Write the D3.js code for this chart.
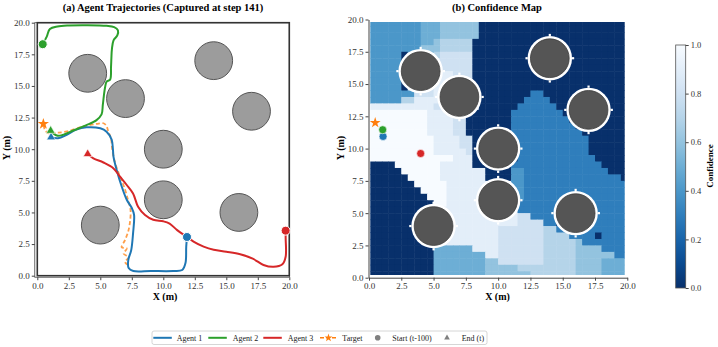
<!DOCTYPE html>
<html>
<head>
<meta charset="utf-8">
<script src="https://d3js.org/d3.v7.min.js"></script>
<style>
  body { margin: 0; background: #fff; }
  text { font-family: "Liberation Serif", "DejaVu Serif", serif; }
</style>
</head>
<body>
<script>
'use strict';

// obstacle centres (m)
const obstacles = [[4, 16], [7, 14], [14, 17], [17, 13], [10, 10], [10, 6], [5, 4], [16, 5]];
const obstacleRadius = 1.5;

const agentNames = ['Agent 1', 'Agent 2', 'Agent 3'];
const agentColors = ['#1f77b4', '#2ca02c', '#d62728'];
const targetColor = '#ff7f0e';

// trajectories, first point = start (t-100), last = end (t)
const agent1Path = [[11.88, 3.06], [11.82, 2.3], [11.76, 1.0], [11.5, 0.45], [10.8, 0.37], [9.0, 0.37], [7.62, 0.37],
  [7.25, 0.6], [7.22, 1.24], [7.45, 2.0], [7.6, 3.35], [7.68, 4.8], [7.5, 5.35], [7.1, 6.0], [6.7, 7.05], [6.3, 8.35],
  [6.05, 9.4], [6.0, 10.0], [5.9, 10.75], [5.5, 11.38], [5.0, 11.65], [3.9, 11.73], [3.1, 11.55], [2.3, 11.12],
  [1.65, 10.87], [1.09, 10.94]];
const agent2Path = [[0.43, 18.3], [0.75, 18.9], [1.0, 19.5], [1.6, 19.7], [2.5, 19.78], [4.0, 19.8], [5.5, 19.75],
  [6.1, 19.65], [6.4, 19.4], [6.35, 19.0], [6.05, 18.6], [5.92, 17.9], [5.88, 17.2], [5.85, 16.5], [5.78, 15.5],
  [5.5, 15.35], [5.38, 14.9], [5.28, 14.2], [5.2, 13.5], [5.1, 12.75], [4.7, 12.3], [3.9, 11.9], [2.9, 11.5],
  [2.0, 11.12], [1.55, 11.08], [1.06, 11.46]];
const agent3Path = [[19.71, 3.56], [19.71, 3.0], [19.71, 1.5], [19.45, 0.9], [18.75, 0.7], [17.95, 0.85], [17.1, 1.35],
  [16.1, 1.7], [15.0, 1.9], [14.0, 2.05], [13.2, 2.3], [12.4, 2.7], [11.9, 3.05], [11.1, 3.6], [10.5, 4.12],
  [10.0, 4.3], [9.2, 4.42], [8.55, 4.8], [8.0, 5.45], [7.6, 6.5], [7.1, 7.17], [6.55, 7.85], [6.03, 8.5],
  [5.25, 8.95], [4.45, 9.28], [4.0, 9.62]];
const targetPath = [[7.2, 0.85], [6.95, 1.1], [7.25, 1.45], [6.85, 1.75], [7.1, 2.15], [6.7, 2.25], [6.95, 2.8],
  [7.2, 3.45], [7.35, 4.2], [7.4, 5.2], [7.2, 6.0], [6.9, 7.0], [6.5, 8.0], [6.15, 9.0], [5.95, 10.0], [5.85, 10.85],
  [5.65, 11.35], [5.48, 11.85], [5.25, 12.05], [4.7, 12.0], [3.65, 11.8], [2.35, 11.4], [1.5, 11.3], [0.9, 11.25],
  [0.6, 11.55], [0.48, 12.0]];
const agentPaths = [agent1Path, agent2Path, agent3Path];

const axisTicks = [0, 2.5, 5, 7.5, 10, 12.5, 15, 17.5, 20];
const colorbarTicks = [0, 0.2, 0.4, 0.6, 0.8, 1.0];

// confidence grid, 40 x 40 cells of 0.5 m, top row = y 19.5..20 (spaces only group the columns)
// level chars: '0'..'9' -> 0.0..0.9, 'w' -> 1.0
const confLevels = '0123456789w';
const confRows = [
  '4444444455 5666666000 0000000000 0000000000',
  '4444444455 5666666000 0000000000 0000000000',
  '4444444455 5666666000 0000000000 0000000000',
  '4444444455 6777770000 0000000000 0000000000',
  '4444444466 6777770000 0000000000 0000000000',
  '4444405555 7888880000 0000000000 0000000000',
  '4444406666 8888880000 0000000000 0000000000',
  '4444406666 8888880000 0000000000 0000000000',
  '4444408888 8998880000 0000000000 0000000000',
  '4444408888 9998880000 0000000000 0000000000',
  '4444408888 9988880000 0000000000 0000000000',
  '4444444888 9888880000 0000033000 0000000000',
  '4444477999 9888888000 0000333300 0000000000',
  '9999999999 8888888000 0003333330 0000000000',
  'wwwwwwwww9 9998800000 0033333333 0000000000',
  'wwwwwwwww9 9998800000 0033333333 3000000000',
  'wwwwwwwww9 9998800000 0033333333 3300000000',
  'wwwwwwwww9 9998800000 0033333333 3330000000',
  'wwwwwwwwww 9999880000 0033333333 3333000000',
  'wwwwwwwwww 9999880000 0003333333 3333000000',
  'wwwwwwwwww 9999980000 0003333333 3333000000',
  'wwwwwwwwww www9990000 0003333333 3333300000',
  '0000wwwwww w999990000 0033333333 3333330000',
  '00000wwwww w999999900 0044333333 3333333000',
  '000000wwww w999999900 0044333333 3333333330',
  '0000000www ww99999999 9944333333 3333333333',
  '00000000ww ww99999999 9944333333 3333333333',
  '000000000w ww99999999 9994333333 3333333333',
  '0000000000 ww99999999 9993333333 3333333333',
  '0000000000 9999999999 9993333333 3333333333',
  '0000000000 9999999999 9998833333 3333333333',
  '0000000000 9999999999 9998888330 3333333333',
  '0000000000 9999999999 8888888773 3333333333',
  '0000000000 9999999999 8888888777 7333303333',
  '0000000000 9999999999 8888888777 7763333333',
  '0000000000 5555559999 8888888777 7766663333',
  '0000000000 5555555599 8888888777 7766666633',
  '0000000000 5555555566 8888888777 7766665555',
  '0000000000 5555555566 6667777777 7766665555',
  '0000000000 5555555566 6666677777 7766665555'
];

const svg = d3.select('body').append('svg')
  .attr('width', 718)
  .attr('height', 347);
const defs = svg.append('defs');

const fmt = d3.format('.1f');

// ---------- (a) trajectories ----------
const xL = d3.scaleLinear().domain([0, 20]).range([37.3, 289.3]);
const yL = d3.scaleLinear().domain([0, 20]).range([275.7, 22.7]);

const left = svg.append('g');

// axes frame
left.append('rect')
  .attr('x', xL(-0.2)).attr('y', yL(20))
  .attr('width', xL(20) - xL(-0.2)).attr('height', yL(-0.12) - yL(20))
  .attr('fill', 'none').attr('stroke', '#444').attr('stroke-width', 0.8);

// environment boundary
left.append('rect')
  .attr('x', xL(0)).attr('y', yL(20))
  .attr('width', xL(20) - xL(0)).attr('height', yL(0) - yL(20))
  .attr('fill', 'none').attr('stroke', '#333').attr('stroke-width', 1.6);

function styleAxis(g) {
  g.select('.domain').remove();
  g.selectAll('.tick line').attr('stroke', '#444');
  g.selectAll('.tick text')
    .attr('fill', '#333')
    .style('font-size', '9px')
    .style('font-family', '"Liberation Serif", "DejaVu Serif", serif');
}

left.append('g')
  .attr('transform', `translate(${xL(-0.2)},0)`)
  .call(d3.axisLeft(yL).tickValues(axisTicks).tickFormat(fmt).tickSize(3).tickPadding(2))
  .call(styleAxis);

left.append('g')
  .attr('transform', `translate(0,${yL(-0.12)})`)
  .call(d3.axisBottom(xL).tickValues(axisTicks).tickFormat(fmt).tickSize(3).tickPadding(2))
  .call(styleAxis);

const rL = xL(obstacleRadius) - xL(0);
left.selectAll('.obs')
  .data(obstacles)
  .join('circle')
  .attr('cx', d => xL(d[0]))
  .attr('cy', d => yL(d[1]))
  .attr('r', rL)
  .attr('fill', '#9c9c9c')
  .attr('stroke', '#555')
  .attr('stroke-width', 1);

const lineL = d3.line()
  .x(d => xL(d[0]))
  .y(d => yL(d[1]))
  .curve(d3.curveCatmullRom.alpha(0.5));

left.append('path')
  .attr('d', lineL(targetPath))
  .attr('fill', 'none')
  .attr('stroke', targetColor)
  .attr('stroke-width', 1.8)
  .attr('stroke-dasharray', '4,2.5')
  .attr('opacity', 0.75);

agentPaths.forEach((p, k) => {
  left.append('path')
    .attr('d', lineL(p))
    .attr('fill', 'none')
    .attr('stroke', agentColors[k])
    .attr('stroke-width', 2);
});

// start markers
agentPaths.forEach((p, k) => {
  left.append('circle')
    .attr('cx', xL(p[0][0]))
    .attr('cy', yL(p[0][1]))
    .attr('r', 4.5)
    .attr('fill', agentColors[k])
    .attr('stroke', '#fff')
    .attr('stroke-width', 1);
});

// end markers
agentPaths.forEach((p, k) => {
  const e = p[p.length - 1];
  left.append('path')
    .attr('d', d3.symbol(d3.symbolTriangle, 34)())
    .attr('transform', `translate(${xL(e[0])},${yL(e[1])})`)
    .attr('fill', agentColors[k])
    .attr('stroke', '#fff')
    .attr('stroke-width', 0.6);
});

const tEnd = targetPath[targetPath.length - 1];
left.append('path')
  .attr('d', d3.symbol(d3.symbolStar, 40)())
  .attr('transform', `translate(${xL(tEnd[0])},${yL(tEnd[1])})`)
  .attr('fill', targetColor);

left.append('text')
  .attr('x', 163).attr('y', 11)
  .attr('text-anchor', 'middle')
  .style('font-size', '10.5px').style('font-weight', 'bold')
  .text('(a) Agent Trajectories (Captured at step 141)');

left.append('text')
  .attr('x', 165).attr('y', 300)
  .attr('text-anchor', 'middle')
  .style('font-size', '10px').style('font-weight', 'bold')
  .text('X (m)');

left.append('text')
  .attr('transform', 'translate(10,148)rotate(-90)')
  .attr('text-anchor', 'middle')
  .style('font-size', '10px').style('font-weight', 'bold')
  .text('Y (m)');

// ---------- (b) confidence map ----------
const xR = d3.scaleLinear().domain([0, 20]).range([369, 627.3]);
const yR = d3.scaleLinear().domain([0, 20]).range([277.7, 19.5]);
const confColor = c => d3.interpolateBlues(1 - c);

const right = svg.append('g');

defs.append('clipPath')
  .attr('id', 'heatClip')
  .append('rect')
  .attr('x', xR(0.1)).attr('y', yR(19.8))
  .attr('width', xR(19.8) - xR(0.1)).attr('height', yR(0.2) - yR(19.8));

const gridRows = confRows.map(r => r.replace(/ /g, ''));
const cellSize = 20 / gridRows.length;
const cells = [];
gridRows.forEach((row, j) => {
  for (let i = 0; i < row.length; i++) {
    cells.push({ i: i, j: j, v: confLevels.indexOf(row[i]) / 10 });
  }
});

right.append('g')
  .attr('clip-path', 'url(#heatClip)')
  .selectAll('rect')
  .data(cells)
  .join('rect')
  .attr('x', d => xR(d.i * cellSize))
  .attr('y', d => yR(20 - d.j * cellSize))
  .attr('width', xR(cellSize) - xR(0) + 0.5)
  .attr('height', yR(0) - yR(cellSize) + 0.5)
  .attr('fill', d => confColor(d.v));

// white rims around obstacles (inflated cells)
const rimG = right.append('g').attr('clip-path', 'url(#heatClip)');
rimG.selectAll('circle')
  .data(obstacles)
  .join('circle')
  .attr('cx', d => xR(d[0]))
  .attr('cy', d => yR(d[1]))
  .attr('r', xR(1.72) - xR(0))
  .attr('fill', '#fff');
const nub = xR(0.17) - xR(0);
obstacles.forEach(o => {
  [[0, 1.8], [0, -1.8], [1.8, 0], [-1.8, 0]].forEach(off => {
    rimG.append('rect')
      .attr('x', xR(o[0] + off[0]) - nub / 2)
      .attr('y', yR(o[1] + off[1]) - nub / 2)
      .attr('width', nub).attr('height', nub)
      .attr('fill', '#fff');
  });
});

right.selectAll('.obsR')
  .data(obstacles)
  .join('circle')
  .attr('cx', d => xR(d[0]))
  .attr('cy', d => yR(d[1]))
  .attr('r', xR(obstacleRadius) - xR(0))
  .attr('fill', '#555')
  .attr('stroke', '#3c3c3c')
  .attr('stroke-width', 0.8);

function styleAxisR(g) {
  g.select('.domain').attr('stroke', '#444');
  g.selectAll('.tick line').attr('stroke', '#444');
  g.selectAll('.tick text')
    .attr('fill', '#333')
    .style('font-size', '9px')
    .style('font-family', '"Liberation Serif", "DejaVu Serif", serif');
}

right.append('g')
  .attr('transform', `translate(${xR(0) - 0.5},0)`)
  .call(d3.axisLeft(yR).tickValues(axisTicks).tickFormat(fmt).tickSize(3).tickSizeOuter(0).tickPadding(2))
  .call(styleAxisR);

right.append('g')
  .attr('transform', `translate(0,${yR(0)})`)
  .call(d3.axisBottom(xR).tickValues(axisTicks).tickFormat(fmt).tickSize(3).tickSizeOuter(0).tickPadding(2))
  .call(styleAxisR);

// current positions
agentPaths.forEach((p, k) => {
  const e = p[p.length - 1];
  right.append('circle')
    .attr('cx', xR(e[0]))
    .attr('cy', yR(e[1]))
    .attr('r', 4)
    .attr('fill', agentColors[k])
    .attr('stroke', '#fff')
    .attr('stroke-width', 0.6);
});
right.append('path')
  .attr('d', d3.symbol(d3.symbolStar, 36)())
  .attr('transform', `translate(${xR(tEnd[0])},${yR(tEnd[1])})`)
  .attr('fill', targetColor);

right.append('text')
  .attr('x', 497).attr('y', 11)
  .attr('text-anchor', 'middle')
  .style('font-size', '10.5px').style('font-weight', 'bold')
  .text('(b) Confidence Map');

right.append('text')
  .attr('x', 497.5).attr('y', 300)
  .attr('text-anchor', 'middle')
  .style('font-size', '10px').style('font-weight', 'bold')
  .text('X (m)');

right.append('text')
  .attr('transform', 'translate(344,148)rotate(-90)')
  .attr('text-anchor', 'middle')
  .style('font-size', '10px').style('font-weight', 'bold')
  .text('Y (m)');

// ---------- colorbar ----------
const cbScale = d3.scaleLinear().domain([0, 1]).range([288, 45]);
const grad = defs.append('linearGradient')
  .attr('id', 'cbGrad')
  .attr('x1', 0).attr('y1', 1).attr('x2', 0).attr('y2', 0);
d3.range(0, 1.0001, 0.1).forEach(t => {
  grad.append('stop').attr('offset', t).attr('stop-color', confColor(t));
});

svg.append('rect')
  .attr('x', 675.7).attr('y', cbScale(1))
  .attr('width', 10).attr('height', cbScale(0) - cbScale(1))
  .attr('fill', 'url(#cbGrad)')
  .attr('stroke', '#555').attr('stroke-width', 0.8);

svg.append('g')
  .attr('transform', 'translate(685.7,0)')
  .call(d3.axisRight(cbScale).tickValues(colorbarTicks).tickFormat(fmt).tickSize(3).tickPadding(2))
  .call(g => {
    g.select('.domain').remove();
    g.selectAll('.tick line').attr('stroke', '#444');
    g.selectAll('.tick text').attr('fill', '#333').style('font-size', '8.5px')
      .style('font-family', '"Liberation Serif", "DejaVu Serif", serif');
  });

svg.append('text')
  .attr('transform', 'translate(713,166)rotate(-90)')
  .attr('text-anchor', 'middle')
  .style('font-size', '9px').style('font-weight', 'bold')
  .text('Confidence');

// ---------- legend ----------
const legend = svg.append('g');
legend.append('rect')
  .attr('x', 152).attr('y', 331)
  .attr('width', 335).attr('height', 13.5)
  .attr('rx', 2)
  .attr('fill', '#fff')
  .attr('stroke', '#ccc').attr('stroke-width', 0.8);

const ly = 337.8;
const lineStarts = [153.3, 208.3, 263.3];
const lineTexts = [176.7, 232.7, 287.7];
agentNames.forEach((name, k) => {
  legend.append('line')
    .attr('x1', lineStarts[k]).attr('x2', lineStarts[k] + 18.5)
    .attr('y1', ly).attr('y2', ly)
    .attr('stroke', agentColors[k]).attr('stroke-width', 2);
  legend.append('text')
    .attr('x', lineTexts[k]).attr('y', ly + 2.8)
    .style('font-size', '8px').attr('fill', '#222')
    .text(name);
});

legend.append('line')
  .attr('x1', 320).attr('x2', 337)
  .attr('y1', ly).attr('y2', ly)
  .attr('stroke', targetColor).attr('stroke-width', 1.6)
  .attr('stroke-dasharray', '4,2');
legend.append('path')
  .attr('d', d3.symbol(d3.symbolStar, 20)())
  .attr('transform', `translate(328.5,${ly})`)
  .attr('fill', targetColor);
legend.append('text')
  .attr('x', 342.3).attr('y', ly + 2.8)
  .style('font-size', '8px').attr('fill', '#222')
  .text('Target');

legend.append('circle')
  .attr('cx', 377.7).attr('cy', ly).attr('r', 2.8)
  .attr('fill', '#808080');
legend.append('text')
  .attr('x', 392.3).attr('y', ly + 2.8)
  .style('font-size', '8px').attr('fill', '#222')
  .text('Start (t-100)');

legend.append('path')
  .attr('d', d3.symbol(d3.symbolTriangle, 14)())
  .attr('transform', `translate(447,${ly})`)
  .attr('fill', '#808080');
legend.append('text')
  .attr('x', 461.7).attr('y', ly + 2.8)
  .style('font-size', '8px').attr('fill', '#222')
  .text('End (t)');
</script>
</body>
</html>
